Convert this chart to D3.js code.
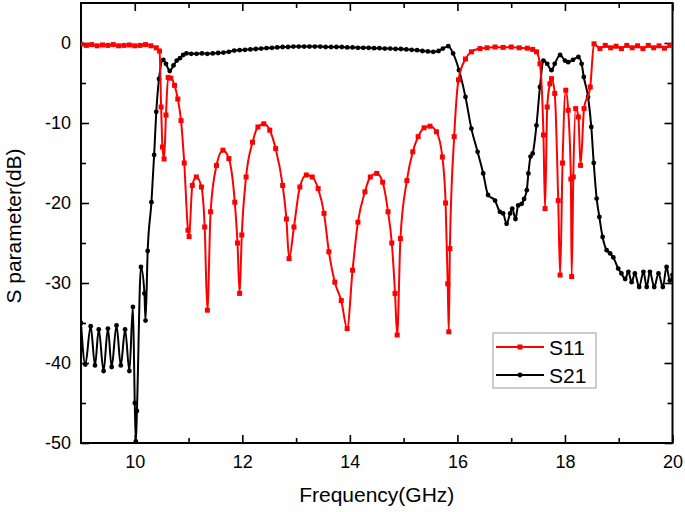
<!DOCTYPE html>
<html>
<head>
<meta charset="utf-8">
<script src="https://cdn.jsdelivr.net/npm/d3@7"></script>
<style>
  body { margin: 0; background: #fff; }
  svg { font-family: "Liberation Sans", Arial, sans-serif; }
</style>
</head>
<body>
<div id="chart"></div>
<script>
// S11 (red, squares)
const s11Freq = [9.0, 9.1, 9.2, 9.3, 9.4, 9.5, 9.6, 9.7, 9.8, 9.9, 10.0, 10.1, 10.2, 10.3, 10.4, 10.46,
  10.49, 10.515, 10.545, 10.58, 10.62, 10.67, 10.74, 10.8, 10.86, 10.92, 10.99, 11.01, 11.07, 11.145,
  11.24, 11.3, 11.35, 11.41, 11.52, 11.64, 11.75, 11.86, 11.91, 11.95, 11.99, 12.07, 12.19, 12.29,
  12.4, 12.51, 12.62, 12.75, 12.82, 12.87, 12.96, 13.07, 13.19, 13.3, 13.41, 13.52, 13.61, 13.72,
  13.84, 13.95, 14.05, 14.15, 14.28, 14.38, 14.5, 14.61, 14.71, 14.78, 14.84, 14.88, 14.94, 15.06,
  15.17, 15.27, 15.38, 15.49, 15.61, 15.72, 15.78, 15.82, 15.84, 15.86, 15.94, 16.02, 16.15, 16.26,
  16.42, 16.55, 16.7, 16.85, 17.0, 17.15, 17.3, 17.4, 17.47, 17.535, 17.6, 17.63, 17.67, 17.72,
  17.75, 17.81, 17.875, 17.91, 17.955, 18.015, 18.06, 18.11, 18.125, 18.155, 18.2, 18.25, 18.29,
  18.355, 18.47, 18.54, 18.65, 18.75, 18.85, 18.95, 19.05, 19.15, 19.25, 19.35, 19.45, 19.55, 19.65,
  19.75, 19.85, 19.95];
const s11Db = [-0.15, -0.3, -0.2, -0.35, -0.25, -0.3, -0.2, -0.35, -0.3, -0.25, -0.35, -0.3, -0.2, -0.35, -0.6, -1.0,
  -8, -13.0, -14.5, -9, -4.3, -4.4, -5.3, -7.0, -9.7, -15, -23.4, -24.2, -17.8, -16.75,
  -18, -23, -33.4, -21.1, -15.3, -13.4, -14.45, -19.9, -25, -31.3, -24, -16.75, -12.4, -10.5,
  -10.1, -10.9, -13.2, -17.8, -22, -26.95, -23, -18, -16.5, -16.75, -18.2, -21.3, -26.1, -29.9,
  -32.2, -35.7, -28.4, -22.4, -18.6, -16.75, -16.3, -17.4, -21.1, -25, -31.3, -36.5, -24.45, -17.2,
  -13.6, -11.7, -10.6, -10.4, -11.1, -14.25, -20, -30.1, -36.1, -25.7, -11.7, -4.6, -2.0, -1.1,
  -0.7, -0.6, -0.5, -0.55, -0.5, -0.6, -0.65, -0.8, -1.1, -2.6, -11.5, -20.7, -8, -5.1,
  -4.45, -6.3, -19.7, -29, -15, -5.9, -8.4, -17, -29.2, -16.75, -8.2, -9.25, -15.3,
  -8.2, -5.5, -0.1, -0.7, -0.3, -0.6, -0.4, -0.7, -0.3, -0.6, -0.35, -0.7, -0.3, -0.6,
  -0.35, -0.65, -0.3, -0.55];

// S21 (black, circles)
const s21Freq = [9.0, 9.08, 9.18, 9.26, 9.33, 9.42, 9.5, 9.57, 9.66, 9.74, 9.82, 9.9, 9.965, 10.0,
  10.02, 10.04, 10.115, 10.18, 10.2, 10.24, 10.31, 10.36, 10.4, 10.45, 10.53, 10.58, 10.65, 10.72,
  10.78, 10.84, 10.9, 10.96, 11.05, 11.15, 11.25, 11.35, 11.45, 11.55, 11.65, 11.75, 11.85, 11.95,
  12.05, 12.15, 12.25, 12.35, 12.45, 12.55, 12.65, 12.75, 12.85, 12.95, 13.05, 13.15, 13.25, 13.35,
  13.45, 13.55, 13.65, 13.75, 13.85, 13.95, 14.05, 14.15, 14.25, 14.35, 14.45, 14.55, 14.65, 14.75,
  14.85, 14.95, 15.05, 15.15, 15.25, 15.35, 15.45, 15.55, 15.65, 15.73, 15.83, 15.92, 16.03, 16.15,
  16.26, 16.375, 16.48, 16.57, 16.7, 16.79, 16.85, 16.915, 16.98, 17.02, 17.08, 17.13, 17.195, 17.24,
  17.29, 17.32, 17.36, 17.4, 17.47, 17.535, 17.6, 17.67, 17.75, 17.81, 17.91, 18.0, 18.06, 18.15,
  18.25, 18.31, 18.35, 18.43, 18.49, 18.535, 18.59, 18.64, 18.7, 18.775, 18.84, 18.9, 18.99, 19.05,
  19.12, 19.18, 19.24, 19.3, 19.38, 19.46, 19.52, 19.58, 19.66, 19.74, 19.82, 19.89, 19.95, 20.0];
const s21Db = [-35.0, -40.2, -35.4, -40.3, -35.8, -41.0, -35.7, -40.5, -35.3, -40.3, -35.8, -41.0, -33.0, -45,
  -49.8, -46, -28.0, -31.3, -34.7, -26, -19.9, -14, -8.6, -4.5, -2.1, -2.6, -3.5, -2.8,
  -2.2, -1.9, -1.5, -1.3, -1.35, -1.35, -1.3, -1.35, -1.3, -1.25, -1.2, -1.1, -0.95, -0.9,
  -0.85, -0.8, -0.75, -0.7, -0.65, -0.6, -0.55, -0.5, -0.5, -0.45, -0.45, -0.45, -0.45, -0.45,
  -0.45, -0.5, -0.5, -0.5, -0.5, -0.55, -0.55, -0.6, -0.6, -0.6, -0.65, -0.65, -0.7, -0.7,
  -0.75, -0.75, -0.8, -0.85, -0.9, -1.0, -1.05, -1.1, -1.0, -0.7, -0.4, -1.3, -3.4, -6.75,
  -10.7, -13.6, -16.3, -19.0, -19.7, -21.1, -21.3, -22.6, -21.3, -20.7, -22.0, -20.3, -20.1, -19.5,
  -18.4, -16.3, -14.2, -13.8, -10.3, -5.5, -2.2, -2.6, -3.4, -2.6, -1.5, -2.2, -2.4, -2.1,
  -1.75, -2.6, -4.25, -6.75, -10.5, -15.0, -19.45, -21.75, -24.25, -25.9, -26.3, -26.8, -28.2, -28.8,
  -29.5, -28.6, -29.9, -28.8, -30.5, -28.6, -30.5, -28.6, -30.5, -28.8, -30.5, -28.0, -29.7, -29.0];

const xMajor = [10, 12, 14, 16, 18, 20];
const xMinor = [11, 13, 15, 17, 19];
const yMajor = [0, -10, -20, -30, -40, -50];
const yMinor = [-5, -15, -25, -35, -45];

const W = 685, H = 512;
const margin = { top: 3, right: 12.5, bottom: 69, left: 81 };

const svg = d3.select("#chart").append("svg")
  .attr("width", W)
  .attr("height", H);

const x = d3.scaleLinear().domain([9, 20]).range([margin.left, W - margin.right]);
const y = d3.scaleLinear().domain([-50, 5]).range([H - margin.bottom, margin.top]);

const x0 = x.range()[0], x1 = x.range()[1];
const y0 = y.range()[0], y1 = y.range()[1];

svg.append("clipPath").attr("id", "plot")
  .append("rect")
  .attr("x", x0).attr("y", y1)
  .attr("width", x1 - x0).attr("height", y0 - y1);

// axes: inward ticks on all four sides
function styleAxis(g) {
  g.select(".domain").remove();
  g.selectAll(".tick line").attr("stroke", "#000").attr("stroke-width", 1.6);
  g.selectAll(".tick text").attr("fill", "#000").style("font-size", "18px");
}

svg.append("g")
  .attr("transform", "translate(0," + y0 + ")")
  .call(d3.axisBottom(x).tickValues(xMajor).tickSize(-8).tickPadding(12).tickFormat(d => d))
  .call(styleAxis);
svg.append("g")
  .attr("transform", "translate(0," + y0 + ")")
  .call(d3.axisBottom(x).tickValues(xMinor).tickSize(-5).tickFormat(""))
  .call(styleAxis);
svg.append("g")
  .attr("transform", "translate(0," + y1 + ")")
  .call(d3.axisTop(x).tickValues(xMajor).tickSize(-8).tickFormat(""))
  .call(styleAxis);
svg.append("g")
  .attr("transform", "translate(0," + y1 + ")")
  .call(d3.axisTop(x).tickValues(xMinor).tickSize(-5).tickFormat(""))
  .call(styleAxis);

svg.append("g")
  .attr("transform", "translate(" + x0 + ",0)")
  .call(d3.axisLeft(y).tickValues(yMajor).tickSize(-8).tickPadding(10).tickFormat(d => String(d)))
  .call(styleAxis);
svg.append("g")
  .attr("transform", "translate(" + x0 + ",0)")
  .call(d3.axisLeft(y).tickValues(yMinor).tickSize(-5).tickFormat(""))
  .call(styleAxis);
svg.append("g")
  .attr("transform", "translate(" + x1 + ",0)")
  .call(d3.axisRight(y).tickValues(yMajor).tickSize(-8).tickFormat(""))
  .call(styleAxis);
svg.append("g")
  .attr("transform", "translate(" + x1 + ",0)")
  .call(d3.axisRight(y).tickValues(yMinor).tickSize(-5).tickFormat(""))
  .call(styleAxis);

// frame
svg.append("rect")
  .attr("x", x0).attr("y", y1)
  .attr("width", x1 - x0).attr("height", y0 - y1)
  .attr("fill", "none")
  .attr("stroke", "#000")
  .attr("stroke-width", 2);

// data
const s11 = s11Freq.map((f, i) => ({ f: f, v: s11Db[i] }));
const s21 = s21Freq.map((f, i) => ({ f: f, v: s21Db[i] }));

const line = d3.line()
  .x(d => x(d.f))
  .y(d => y(d.v))
  .curve(d3.curveMonotoneX);

const plot = svg.append("g").attr("clip-path", "url(#plot)");

plot.append("path")
  .datum(s21)
  .attr("fill", "none")
  .attr("stroke", "#000")
  .attr("stroke-width", 2)
  .attr("d", line);

plot.selectAll(".m21")
  .data(s21)
  .enter().append("circle")
  .attr("class", "m21")
  .attr("cx", d => x(d.f))
  .attr("cy", d => y(d.v))
  .attr("r", 2.4)
  .attr("fill", "#000");

plot.append("path")
  .datum(s11)
  .attr("fill", "none")
  .attr("stroke", "#ff0000")
  .attr("stroke-width", 2)
  .attr("d", line);

plot.selectAll(".m11")
  .data(s11)
  .enter().append("rect")
  .attr("class", "m11")
  .attr("x", d => x(d.f) - 2.5)
  .attr("y", d => y(d.v) - 2.5)
  .attr("width", 5)
  .attr("height", 5)
  .attr("fill", "#ff0000");

// axis titles
svg.append("text")
  .attr("x", (x0 + x1) / 2)
  .attr("y", 502)
  .attr("text-anchor", "middle")
  .style("font-size", "21px")
  .text("Frequency(GHz)");

svg.append("text")
  .attr("transform", "translate(21," + 226 + ") rotate(-90)")
  .attr("text-anchor", "middle")
  .style("font-size", "21px")
  .text("S parameter(dB)");

// legend
const legend = svg.append("g").attr("transform", "translate(493,333)");
legend.append("rect")
  .attr("width", 103).attr("height", 55)
  .attr("fill", "#fff")
  .attr("stroke", "#999")
  .attr("stroke-width", 1);

const items = [
  { name: "S11", color: "#ff0000", shape: "square" },
  { name: "S21", color: "#000", shape: "circle" }
];
items.forEach((it, i) => {
  const g = legend.append("g").attr("transform", "translate(0," + (14 + i * 28) + ")");
  g.append("line")
    .attr("x1", 3).attr("x2", 51)
    .attr("stroke", it.color).attr("stroke-width", 2);
  if (it.shape === "square") {
    g.append("rect").attr("x", 24.5).attr("y", -2.5).attr("width", 5).attr("height", 5).attr("fill", it.color);
  } else {
    g.append("circle").attr("cx", 27).attr("r", 2.4).attr("fill", it.color);
  }
  g.append("text")
    .attr("x", 56).attr("y", 8)
    .style("font-size", "21px")
    .text(it.name);
});
</script>
</body>
</html>
